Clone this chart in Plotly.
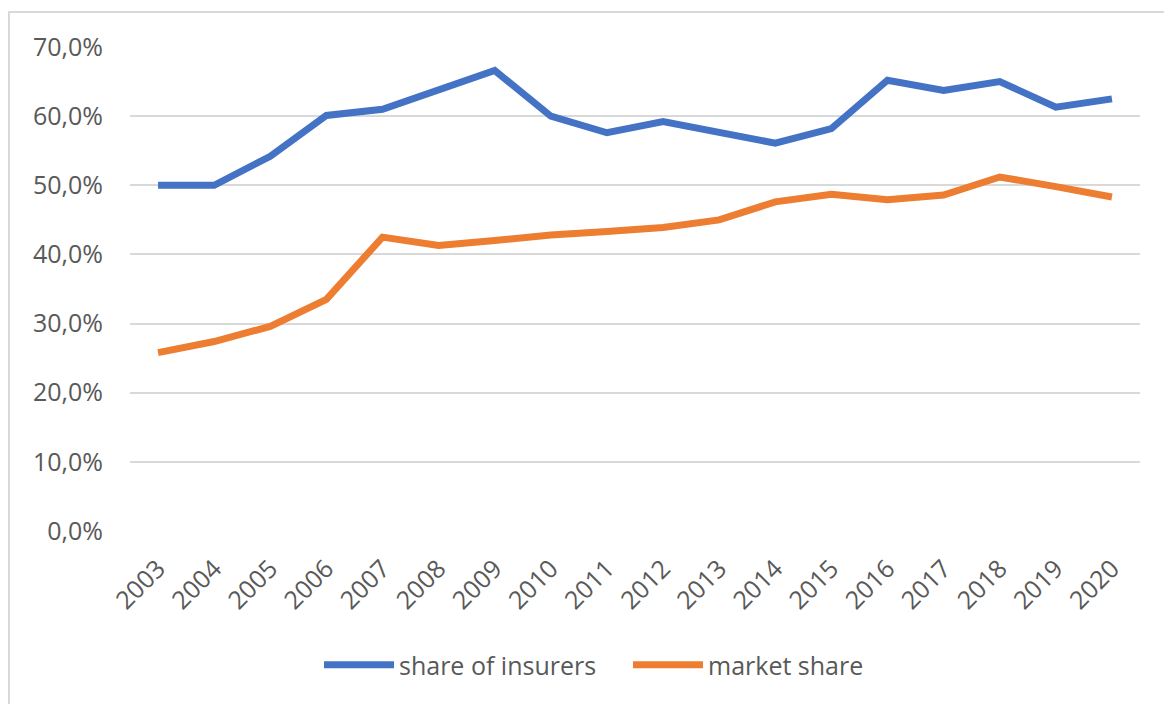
import plotly.graph_objects as go

# Yearly series (percent)
years = ["2003", "2004", "2005", "2006", "2007", "2008", "2009", "2010", "2011",
         "2012", "2013", "2014", "2015", "2016", "2017", "2018", "2019", "2020"]
share_of_insurers = [50.0, 50.0, 54.2, 60.1, 61.0, 63.9, 66.6, 60.0, 57.6,
                     59.2, 57.6, 56.1, 58.2, 65.2, 63.7, 65.0, 61.3, 62.5]
market_share = [25.8, 27.4, 29.6, 33.5, 42.5, 41.3, 42.0, 42.8, 43.3,
                43.9, 45.0, 47.6, 48.7, 47.9, 48.6, 51.2, 49.8, 48.3]
y_ticks = [0, 10, 20, 30, 40, 50, 60, 70]
y_tick_labels = ["0,0%", "10,0%", "20,0%", "30,0%", "40,0%", "50,0%", "60,0%", "70,0%"]

BLUE = "#4472C4"
ORANGE = "#ED7D31"
GRID = "#D9D9D9"
TEXT = "#595959"
FONT = "Open Sans"
FS = 25

x_idx = list(range(len(years)))

fig = go.Figure()
fig.add_trace(go.Scatter(
    x=x_idx, y=share_of_insurers, mode="lines", name="share of insurers",
    line=dict(color=BLUE, width=7, shape="linear"),
))
fig.add_trace(go.Scatter(
    x=x_idx, y=market_share, mode="lines", name="market share",
    line=dict(color=ORANGE, width=7, shape="linear"),
))

W, H = 1164, 704
L, R, T, B = 130, 24, 47, 173
pw, ph = W - L - R, H - T - B

def px_to_paper(px, py):
    return (px - L) / pw, (H - B - py) / ph

# outer chart frame (left and top edges visible)
fx0, fy1 = px_to_paper(9, 12)
fx1, fy0 = px_to_paper(1200, 740)
fig.add_shape(type="rect", xref="paper", yref="paper",
              x0=fx0, x1=fx1, y0=fy0, y1=fy1,
              line=dict(color=GRID, width=2), fillcolor="rgba(0,0,0,0)", layer="below")

lx, ly = px_to_paper(628, 665)

fig.update_layout(
    width=W, height=H,
    margin=dict(l=L, r=R, t=T, b=B),
    paper_bgcolor="white", plot_bgcolor="white",
    font=dict(family=FONT, size=FS, color=TEXT),
    showlegend=True,
    legend=dict(orientation="h", x=lx, y=ly, xanchor="center", yanchor="middle",
                font=dict(family=FONT, size=FS, color=TEXT),
                itemwidth=70, entrywidth=224, tracegroupgap=0,
                bgcolor="rgba(0,0,0,0)"),
    xaxis=dict(
        range=[-0.5, len(years) - 0.5],
        tickmode="array", tickvals=x_idx, ticktext=years,
        tickangle=-45, showgrid=False, zeroline=False, showline=False,
        ticks="", ticklabelstandoff=17,
        tickfont=dict(family=FONT, size=FS, color=TEXT),
        fixedrange=True,
    ),
    yaxis=dict(
        range=[0, 70], tickmode="array", tickvals=y_ticks, ticktext=y_tick_labels,
        showgrid=True, gridcolor=GRID, gridwidth=2,
        zeroline=False, showline=False, ticks="",
        ticklabelstandoff=26,
        tickfont=dict(family=FONT, size=FS, color=TEXT),
        fixedrange=True,
    ),
)

fig.write_html("out.html")
